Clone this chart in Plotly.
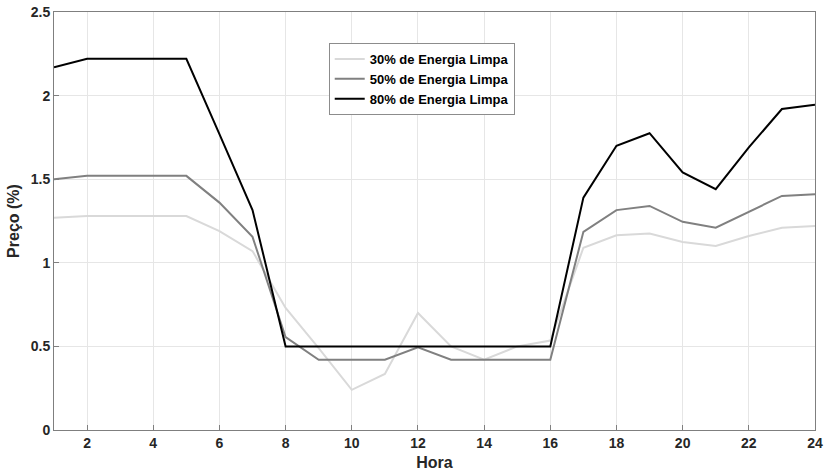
import plotly.graph_objects as go

hours = list(range(1, 25))
clean30 = [1.27, 1.28, 1.28, 1.28, 1.28, 1.19, 1.07, 0.73, 0.49, 0.24, 0.335, 0.70,
           0.50, 0.42, 0.50, 0.535, 1.09, 1.165, 1.175, 1.125, 1.10, 1.16, 1.21, 1.22]
clean50 = [1.50, 1.52, 1.52, 1.52, 1.52, 1.36, 1.155, 0.555, 0.42, 0.42, 0.42, 0.495,
           0.42, 0.42, 0.42, 0.42, 1.185, 1.315, 1.34, 1.245, 1.21, 1.305, 1.40, 1.41]
clean80 = [2.17, 2.22, 2.22, 2.22, 2.22, 1.77, 1.315, 0.50, 0.50, 0.50, 0.50, 0.50,
           0.50, 0.50, 0.50, 0.50, 1.39, 1.70, 1.775, 1.54, 1.44, 1.69, 1.92, 1.945]
names = ["30% de Energia Limpa", "50% de Energia Limpa", "80% de Energia Limpa"]
colors = ["#d9d9d9", "#808080", "#000000"]
xticks = list(range(2, 25, 2))
yticks = [0, 0.5, 1, 1.5, 2, 2.5]
yticklabels = ["0", "0.5", "1", "1.5", "2", "2.5"]

fig = go.Figure()
for name, vals, col in zip(names, [clean30, clean50, clean80], colors):
    fig.add_trace(go.Scatter(x=hours, y=vals, mode="lines", name=name,
                             line=dict(color=col, width=2)))

font_family = "Liberation Sans, Arial, Helvetica, sans-serif"
axis_common = dict(showline=True, linecolor="#7f7f7f", linewidth=1, mirror=True,
                   showgrid=True, gridcolor="#e6e6e6", gridwidth=1,
                   ticks="inside", ticklen=5, tickcolor="#7f7f7f",
                   zeroline=False, automargin=False,
                   tickfont=dict(family=font_family, size=14, color="#262626", weight="bold"))

fig.update_layout(
    width=827, height=471,
    margin=dict(l=54, r=12, t=12, b=41),
    paper_bgcolor="white", plot_bgcolor="white",
    font=dict(family=font_family, color="#262626"),
    xaxis=dict(range=[1, 24], tickvals=xticks,
               title=dict(text="Hora", standoff=7,
                          font=dict(family=font_family, size=16, color="#262626", weight="bold")),
               **axis_common),
    yaxis=dict(range=[0, 2.5], tickvals=yticks, ticktext=yticklabels,
               title=dict(text="Preço (%)", standoff=7,
                          font=dict(family=font_family, size=16, color="#262626", weight="bold")),
               **axis_common),
    legend=dict(x=0.361, y=0.926, xanchor="left", yanchor="top",
                bgcolor="white", bordercolor="#8c8c8c", borderwidth=1,
                font=dict(family=font_family, size=13, color="#000000", weight="bold"),
                tracegroupgap=0, itemwidth=30),
    showlegend=True,
)

# remove the default 8px page margin so the figure fills the window exactly
fig.write_html("out.html", config={"displayModeBar": False},
               post_script="document.body.style.margin='0';")
